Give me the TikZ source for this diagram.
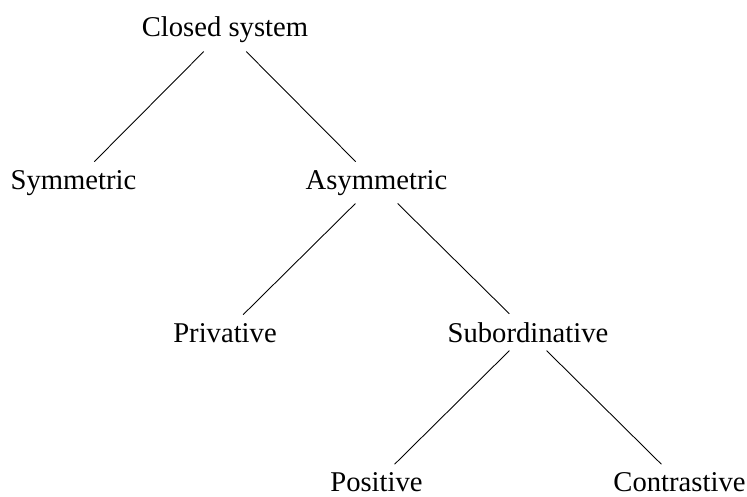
\documentclass[tikz,border=0pt]{standalone}
\usepackage{fontspec}
\setmainfont{Liberation Serif}
\usepackage{tikz}
\usetikzlibrary{shapes,backgrounds,arrows}

\begin{document}
\begin{tikzpicture}[every node/.style={anchor=base, inner sep=4.5pt, font=\fontsize{16.3}{19.6}\selectfont}, line width=0.5pt]
			\useasboundingbox (0.0, 0.0) rectangle (14.94, 9.92);
			\coordinate (top) at (4.50, 9.18);
			\coordinate (left1) at (1.47, 6.14);
			\coordinate (right1) at (7.53, 6.14);
			\coordinate (left2) at (4.50, 3.08);
			\coordinate (right2) at (10.56, 3.08);
			\coordinate (left3) at (7.53, 0.09);
			\coordinate (right3) at (13.59, 0.09);
			\node (closed) at (top) {Closed system};
			\node (symm) at (left1) {Symmetric};
			\node (asymm) at (right1) {Asymmetric};
			\node (priv) at (left2) {Privative};
			\node (subord) at (right2) {Subordinative};
			\node (pos) at (left3) {Positive};
			\node (contr) at (right3) {Contrastive};
			\draw (closed) -- (symm);
			\draw (closed) -- (asymm);
			\draw (asymm) -- (priv);
			\draw (asymm) -- (subord);
			\draw (subord) -- (pos);
			\draw (subord) -- (contr);
			% \draw (priv) -- (left3);
\end{tikzpicture}
\end{document}
